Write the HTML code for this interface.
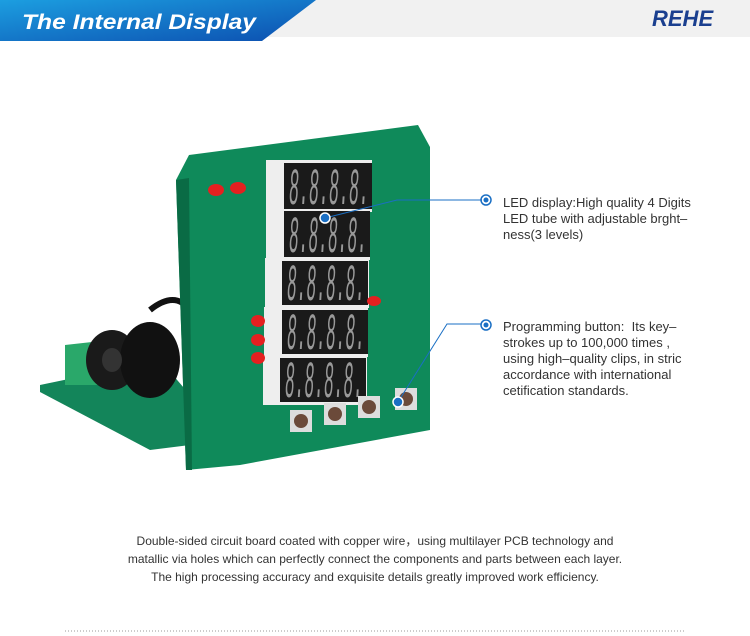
<!DOCTYPE html>
<html><head><style>
body{margin:0;width:750px;height:636px;background:#fff;overflow:hidden;position:relative;font-family:"Liberation Sans",sans-serif}
.t{position:absolute;left:503px;font-size:13px;line-height:16px;color:#333}
.b{position:absolute;left:0;width:750px;text-align:center;font-size:12px;line-height:18px;color:#333;top:532px}
</style></head><body>
<svg width="750" height="636" style="position:absolute;left:0;top:0">
<defs><linearGradient id="g" x1="0" x2="1" y1="0" y2="1"><stop offset="0" stop-color="#1c9ee0"/><stop offset="1" stop-color="#0c4fb0"/></linearGradient></defs>
<rect x="0" y="0" width="750" height="37" fill="#f1f1f1"/>
<polygon points="0,0 316,0 262,41 0,41" fill="url(#g)"/>
<text x="22" y="29" font-family="Liberation Sans" font-style="italic" font-weight="bold" font-size="21" fill="#fff" textLength="234" lengthAdjust="spacingAndGlyphs">The Internal Display</text>
<text x="652" y="26" font-family="Liberation Sans" font-style="italic" font-weight="bold" font-size="22" fill="#1a3f8f">REHE</text>
<polygon points="40,385 160,360 190,395 190,445 150,450 40,392" fill="#13855a"/>
<polygon points="65,345 110,340 110,385 65,385" fill="#2aa86a"/>
<ellipse cx="112" cy="360" rx="26" ry="30" fill="#1a1a1a"/>
<ellipse cx="150" cy="360" rx="30" ry="38" fill="#111"/>
<ellipse cx="112" cy="360" rx="10" ry="12" fill="#333"/>
<path d="M150,310 Q175,290 190,310" stroke="#111" stroke-width="6" fill="none"/>
<polygon points="189,155 418,125 430,147 430,430 240,465 186,470 176,180" fill="#0f8a5a"/>
<polygon points="176,180 189,178 192,470 186,470" fill="#0a6b45"/>
<g fill="#eee">
<rect x="266" y="160" width="106" height="52"/><rect x="266" y="208" width="104" height="52"/><rect x="265" y="258" width="104" height="50"/><rect x="264" y="307" width="104" height="50"/><rect x="263" y="355" width="104" height="50"/>
</g>
<g fill="#1a1a1a">
<rect x="284" y="163" width="88" height="46"/><rect x="284" y="211" width="86" height="46"/><rect x="282" y="261" width="86" height="44"/><rect x="282" y="310" width="86" height="44"/><rect x="280" y="358" width="86" height="44"/>
</g>
<g font-family="Liberation Mono" font-size="52" fill="#999" font-style="italic">
<text x="289" y="204" textLength="80" lengthAdjust="spacingAndGlyphs">8.8.8.8.</text>
<text x="289" y="252" textLength="78" lengthAdjust="spacingAndGlyphs">8.8.8.8.</text>
<text x="287" y="300" textLength="78" lengthAdjust="spacingAndGlyphs">8.8.8.8.</text>
<text x="287" y="349" textLength="78" lengthAdjust="spacingAndGlyphs">8.8.8.8.</text>
<text x="285" y="397" textLength="78" lengthAdjust="spacingAndGlyphs">8.8.8.8.</text>
</g>
<g fill="#e52020"><ellipse cx="216" cy="190" rx="8" ry="6"/><ellipse cx="238" cy="188" rx="8" ry="6"/><ellipse cx="258" cy="321" rx="7" ry="6"/><ellipse cx="258" cy="340" rx="7" ry="6"/><ellipse cx="258" cy="358" rx="7" ry="6"/><ellipse cx="374" cy="301" rx="7" ry="5"/></g>
<g fill="#ddd"><rect x="290" y="410" width="22" height="22"/><rect x="324" y="403" width="22" height="22"/><rect x="358" y="396" width="22" height="22"/><rect x="395" y="388" width="22" height="22"/></g>
<g fill="#6b4a3a"><circle cx="301" cy="421" r="7"/><circle cx="335" cy="414" r="7"/><circle cx="369" cy="407" r="7"/><circle cx="406" cy="399" r="7"/></g>
<polyline points="325,218 397,200 482,200" stroke="#1a6fc4" fill="none"/>
<polyline points="398,402 447,324 482,324" stroke="#1a6fc4" fill="none"/>
<circle cx="325" cy="218" r="5" fill="#1a6fc4" stroke="#fff" stroke-width="1.5"/>
<circle cx="398" cy="402" r="5" fill="#1a6fc4" stroke="#fff" stroke-width="1.5"/>
<circle cx="486" cy="200" r="5" fill="none" stroke="#1a6fc4" stroke-width="1.5"/><circle cx="486" cy="200" r="2.5" fill="#1a6fc4"/>
<circle cx="486" cy="325" r="5" fill="none" stroke="#1a6fc4" stroke-width="1.5"/><circle cx="486" cy="325" r="2.5" fill="#1a6fc4"/>
<line x1="65" y1="631" x2="685" y2="631" stroke="#999" stroke-dasharray="1,2"/>
</svg>
<div class="t" style="top:195px">LED display:High quality 4 Digits<br>LED tube with adjustable brght–<br>ness(3 levels)</div>
<div class="t" style="top:319px">Programming button:&nbsp; Its key–<br>strokes up to 100,000 times ,<br>using high–quality clips, in stric<br>accordance with international<br>cetification standards.</div>
<div class="b">Double-sided circuit board coated with copper wire，using multilayer PCB technology and<br>matallic via holes which can perfectly connect the components and parts between each layer.<br>The high processing accuracy and exquisite details greatly improved work efficiency.</div>
</body></html>
